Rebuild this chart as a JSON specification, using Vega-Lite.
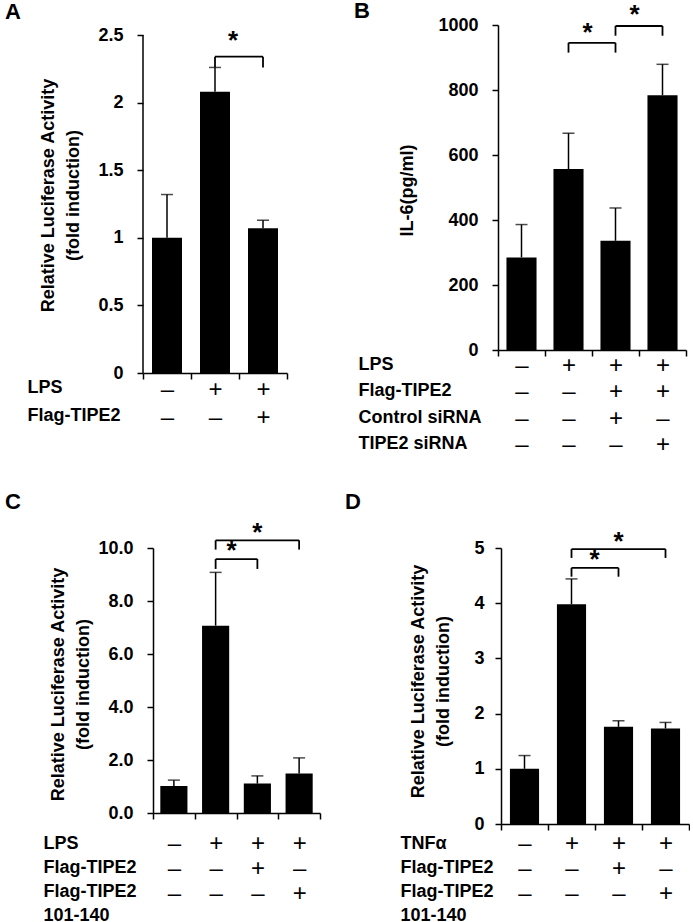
{
  "$schema": "https://vega.github.io/schema/vega-lite/v6.json",
  "background": "white",
  "padding": {"left": 5, "top": 0, "right": 0, "bottom": 0},
  "datasets": {
    "A_bars": [{"cond": "–|–", "val": 1.0, "err": 1.32}, {"cond": "+|–", "val": 2.08, "err": 2.26}, {"cond": "+|+", "val": 1.07, "err": 1.13}],
    "A_axis": [{"cond": "–|–", "y0": 0, "y1": 2.5}],
    "A_brk": [{"from": "+|–", "to": "+|+", "level": 2.34, "leg": 2.26}],
    "A_star": [{"at": "+|–", "mid": true, "y": 2.48, "s": "*"}],
    "B_bars": [{"cond": "–|–|–|–", "val": 285, "err": 386}, {"cond": "+|–|–|–", "val": 557, "err": 667}, {"cond": "+|+|+|–", "val": 336, "err": 437}, {"cond": "+|+|–|+", "val": 784, "err": 879}],
    "B_brk": [{"from": "+|–|–|–", "to": "+|+|+|–", "level": 945, "leg": 915}, {"from": "+|+|+|–", "to": "+|+|–|+", "level": 997, "leg": 967}],
    "B_star": [{"at": "+|–|–|–", "mid": true, "y": 985, "s": "*"}, {"at": "+|+|+|–", "mid": true, "y": 1041, "s": "*"}],
    "C_bars": [{"cond": "–|–|–", "val": 1.02, "err": 1.24}, {"cond": "+|–|–", "val": 7.07, "err": 9.08}, {"cond": "+|+|–", "val": 1.11, "err": 1.4}, {"cond": "+|–|+", "val": 1.49, "err": 2.08}],
    "C_brk": [{"from": "+|–|–", "to": "+|+|–", "level": 9.58, "leg": 9.21}, {"from": "+|–|–", "to": "+|–|+", "level": 10.29, "leg": 9.94}],
    "C_star": [{"at": "+|–|–", "mid": true, "y": 10.0, "s": "*"}, {"at": "+|+|–", "mid": false, "y": 10.69, "s": "*"}],
    "D_bars": [{"cond": "–|–|–", "val": 1.0, "err": 1.24}, {"cond": "+|–|–", "val": 3.98, "err": 4.44}, {"cond": "+|+|–", "val": 1.76, "err": 1.87}, {"cond": "+|–|+", "val": 1.73, "err": 1.84}],
    "D_brk": [{"from": "+|–|–", "to": "+|+|–", "level": 4.64, "leg": 4.48}, {"from": "+|–|–", "to": "+|–|+", "level": 4.98, "leg": 4.82}],
    "D_star": [{"at": "+|–|–", "mid": true, "y": 4.83, "s": "*"}, {"at": "+|+|–", "mid": false, "y": 5.16, "s": "*"}]
  },
  "config": {
    "view": {"stroke": null},
    "font": "Liberation Sans",
    "axis": {
      "grid": false,
      "domainColor": "black", "domainWidth": 1.5,
      "tickColor": "black", "tickWidth": 1.5, "tickSize": 6,
      "labelColor": "black", "labelFont": "Liberation Sans", "labelFontWeight": "bold", "labelFontSize": 18,
      "titleColor": "black", "titleFont": "Liberation Sans", "titleFontWeight": "bold", "titleFontSize": 18
    },
    "axisX": {
      "labelFontSize": 24, "labelFontWeight": "normal", "labelAngle": 0, "labelBaseline": "top",
      "labelExpr": "split(datum.label, '|')", "labelOverlap": false, "labelFlush": false,
      "tickBand": "extent", "titleAngle": 0, "titleAlign": "left", "titleBaseline": "top"
    },
    "axisY": {"labelPadding": 14, "titleAngle": -90, "titleAlign": "center", "titleBaseline": "top"},
    "title": {"anchor": "start", "frame": "group", "fontSize": 22, "fontWeight": "bold", "font": "Liberation Sans", "color": "black", "offset": 0, "baseline": "alphabetic"}
  },
  "columns": 1,
  "align": "none",
  "spacing": 33,
  "concat": [
    {
      "spacing": 66,
      "hconcat": [
        {
          "width": 144, "height": 348,
          "title": {"text": "A", "dx": -138, "dy": 2.5},
          "layer": [
            {
              "data": {"name": "A_bars"},
              "mark": {"type": "bar", "color": "black", "width": {"band": 0.625}},
              "encoding": {
                "x": {"field": "cond", "type": "nominal", "scale": {"domain": ["–|–", "+|–", "+|+"], "paddingInner": 0, "paddingOuter": 0},
                  "axis": {"title": ["LPS", "Flag-TIPE2"], "titleX": -116, "titleY": 5, "titleLineHeight": 28, "labelLineHeight": 28, "labelPadding": -2}},
                "y": {"field": "val", "type": "quantitative", "scale": {"domain": [0, 2.574], "nice": false},
                  "axis": {"values": [0, 0.5, 1, 1.5, 2, 2.5], "format": "~g", "domain": false, "title": ["Relative Luciferase Activity", "(fold induction)"], "titleX": -104, "titleY": 170, "titleLineHeight": 25}}
              }
            },
            {
              "data": {"name": "A_axis"},
              "mark": {"type": "rule", "color": "black", "strokeWidth": 1.5},
              "encoding": {"x": {"field": "cond", "type": "nominal", "bandPosition": 0}, "y": {"field": "y0", "type": "quantitative"}, "y2": {"field": "y1"}}
            },
            {
              "data": {"name": "A_bars"},
              "mark": {"type": "rule", "color": "black", "strokeWidth": 1.5},
              "encoding": {"x": {"field": "cond", "type": "nominal"}, "y": {"field": "val", "type": "quantitative"}, "y2": {"field": "err"}}
            },
            {
              "data": {"name": "A_bars"},
              "mark": {"type": "tick", "color": "black", "orient": "horizontal", "size": 12, "thickness": 1.5},
              "encoding": {"x": {"field": "cond", "type": "nominal"}, "y": {"field": "err", "type": "quantitative"}}
            },
            {
              "data": {"name": "A_brk"},
              "mark": {"type": "rule", "color": "black", "strokeWidth": 1.8},
              "encoding": {"x": {"field": "from", "type": "nominal"}, "x2": {"field": "to"}, "y": {"field": "level", "type": "quantitative"}}
            },
            {
              "data": {"name": "A_brk"},
              "mark": {"type": "rule", "color": "black", "strokeWidth": 1.8},
              "encoding": {"x": {"field": "from", "type": "nominal"}, "y": {"field": "leg", "type": "quantitative"}, "y2": {"field": "level"}}
            },
            {
              "data": {"name": "A_brk"},
              "mark": {"type": "rule", "color": "black", "strokeWidth": 1.8},
              "encoding": {"x": {"field": "to", "type": "nominal"}, "y": {"field": "leg", "type": "quantitative"}, "y2": {"field": "level"}}
            },
            {
              "data": {"name": "A_star"},
              "mark": {"type": "text", "color": "black", "fontSize": 26, "fontWeight": "bold", "baseline": "middle", "dx": 18, "dy": 3},
              "encoding": {"x": {"field": "at", "type": "nominal"}, "y": {"field": "y", "type": "quantitative"}, "text": {"field": "s"}}
            }
          ]
        },
        {
          "width": 188, "height": 325,
          "title": {"text": "B", "dx": -144, "dy": 25.5},
          "layer": [
            {
              "data": {"name": "B_bars"},
              "mark": {"type": "bar", "color": "black", "width": {"band": 0.64}},
              "encoding": {
                "x": {"field": "cond", "type": "nominal", "scale": {"domain": ["–|–|–|–", "+|–|–|–", "+|+|+|–", "+|+|–|+"], "paddingInner": 0, "paddingOuter": 0},
                  "axis": {"title": ["LPS", "Flag-TIPE2", "Control siRNA", "TIPE2 siRNA"], "titleX": -140, "titleY": 5, "titleLineHeight": 26.5, "labelLineHeight": 26.5, "labelPadding": -3}},
                "y": {"field": "val", "type": "quantitative", "scale": {"domain": [0, 1000], "nice": false},
                  "axis": {"values": [0, 100, 200, 300, 400, 500, 600, 700, 800, 900, 1000], "format": "d", "title": "IL-6(pg/ml)", "titleX": -100, "titleY": 165}}
              }
            },
            {
              "data": {"name": "B_bars"},
              "mark": {"type": "rule", "color": "black", "strokeWidth": 1.5},
              "encoding": {"x": {"field": "cond", "type": "nominal"}, "y": {"field": "val", "type": "quantitative"}, "y2": {"field": "err"}}
            },
            {
              "data": {"name": "B_bars"},
              "mark": {"type": "tick", "color": "black", "orient": "horizontal", "size": 12, "thickness": 1.5},
              "encoding": {"x": {"field": "cond", "type": "nominal"}, "y": {"field": "err", "type": "quantitative"}}
            },
            {
              "data": {"name": "B_brk"},
              "mark": {"type": "rule", "color": "black", "strokeWidth": 1.8},
              "encoding": {"x": {"field": "from", "type": "nominal"}, "x2": {"field": "to"}, "y": {"field": "level", "type": "quantitative"}}
            },
            {
              "data": {"name": "B_brk"},
              "mark": {"type": "rule", "color": "black", "strokeWidth": 1.8},
              "encoding": {"x": {"field": "from", "type": "nominal"}, "y": {"field": "leg", "type": "quantitative"}, "y2": {"field": "level"}}
            },
            {
              "data": {"name": "B_brk"},
              "mark": {"type": "rule", "color": "black", "strokeWidth": 1.8},
              "encoding": {"x": {"field": "to", "type": "nominal"}, "y": {"field": "leg", "type": "quantitative"}, "y2": {"field": "level"}}
            },
            {
              "data": {"name": "B_star"},
              "mark": {"type": "text", "color": "black", "fontSize": 26, "fontWeight": "bold", "baseline": "middle", "dx": 19, "dy": 3},
              "encoding": {"x": {"field": "at", "type": "nominal"}, "y": {"field": "y", "type": "quantitative"}, "text": {"field": "s"}}
            }
          ]
        }
      ]
    },
    {
      "spacing": 24,
      "hconcat": [
        {
          "width": 177, "height": 265,
          "title": {"text": "C", "dx": -138, "dy": -2},
          "layer": [
            {
              "data": {"name": "C_bars"},
              "mark": {"type": "bar", "color": "black", "width": {"band": 0.65}},
              "encoding": {
                "x": {"field": "cond", "type": "nominal", "scale": {"domain": ["–|–|–", "+|–|–", "+|+|–", "+|–|+"], "range": [10, 177], "paddingInner": 0, "paddingOuter": 0},
                  "axis": {"title": ["LPS", "Flag-TIPE2", "Flag-TIPE2", "\u2007\u2009101-140"], "titleX": -100, "titleY": 21, "titleLineHeight": 24, "labelLineHeight": 25, "labelPadding": 12}},
                "y": {"field": "val", "type": "quantitative", "scale": {"domain": [0, 10], "nice": false},
                  "axis": {"offset": -10, "values": [0, 2, 4, 6, 8, 10], "format": ".1f", "title": ["Relative Luciferase Activity", "(fold induction)"], "titleX": -104, "titleY": 136, "titleLineHeight": 25}}
              }
            },
            {
              "data": {"name": "C_bars"},
              "mark": {"type": "rule", "color": "black", "strokeWidth": 1.5},
              "encoding": {"x": {"field": "cond", "type": "nominal"}, "y": {"field": "val", "type": "quantitative"}, "y2": {"field": "err"}}
            },
            {
              "data": {"name": "C_bars"},
              "mark": {"type": "tick", "color": "black", "orient": "horizontal", "size": 12, "thickness": 1.5},
              "encoding": {"x": {"field": "cond", "type": "nominal"}, "y": {"field": "err", "type": "quantitative"}}
            },
            {
              "data": {"name": "C_brk"},
              "mark": {"type": "rule", "color": "black", "strokeWidth": 1.8},
              "encoding": {"x": {"field": "from", "type": "nominal"}, "x2": {"field": "to"}, "y": {"field": "level", "type": "quantitative"}}
            },
            {
              "data": {"name": "C_brk"},
              "mark": {"type": "rule", "color": "black", "strokeWidth": 1.8},
              "encoding": {"x": {"field": "from", "type": "nominal"}, "y": {"field": "leg", "type": "quantitative"}, "y2": {"field": "level"}}
            },
            {
              "data": {"name": "C_brk"},
              "mark": {"type": "rule", "color": "black", "strokeWidth": 1.8},
              "encoding": {"x": {"field": "to", "type": "nominal"}, "y": {"field": "leg", "type": "quantitative"}, "y2": {"field": "level"}}
            },
            {
              "data": {"name": "C_star"},
              "transform": [{"filter": "datum.mid"}],
              "mark": {"type": "text", "color": "black", "fontSize": 26, "fontWeight": "bold", "baseline": "middle", "dx": 16, "dy": 3},
              "encoding": {"x": {"field": "at", "type": "nominal"}, "y": {"field": "y", "type": "quantitative"}, "text": {"field": "s"}}
            },
            {
              "data": {"name": "C_star"},
              "transform": [{"filter": "!datum.mid"}],
              "mark": {"type": "text", "color": "black", "fontSize": 26, "fontWeight": "bold", "baseline": "middle", "dy": 3},
              "encoding": {"x": {"field": "at", "type": "nominal"}, "y": {"field": "y", "type": "quantitative"}, "text": {"field": "s"}}
            }
          ]
        },
        {
          "width": 188, "height": 276,
          "title": {"text": "D", "dx": -156, "dy": -11},
          "layer": [
            {
              "data": {"name": "D_bars"},
              "mark": {"type": "bar", "color": "black", "width": {"band": 0.62}},
              "encoding": {
                "x": {"field": "cond", "type": "nominal", "scale": {"domain": ["–|–|–", "+|–|–", "+|+|–", "+|–|+"], "paddingInner": 0, "paddingOuter": 0},
                  "axis": {"title": ["TNFα", "Flag-TIPE2", "Flag-TIPE2", "\u2007\u2009101-140"], "titleX": -101, "titleY": 10, "titleLineHeight": 24, "labelLineHeight": 25, "labelPadding": 1}},
                "y": {"field": "val", "type": "quantitative", "scale": {"domain": [0, 5], "nice": false},
                  "axis": {"values": [0, 1, 2, 3, 4, 5], "format": "d", "labelPadding": 11, "title": ["Relative Luciferase Activity", "(fold induction)"], "titleX": -92, "titleY": 133, "titleLineHeight": 25}}
              }
            },
            {
              "data": {"name": "D_bars"},
              "mark": {"type": "rule", "color": "black", "strokeWidth": 1.5},
              "encoding": {"x": {"field": "cond", "type": "nominal"}, "y": {"field": "val", "type": "quantitative"}, "y2": {"field": "err"}}
            },
            {
              "data": {"name": "D_bars"},
              "mark": {"type": "tick", "color": "black", "orient": "horizontal", "size": 12, "thickness": 1.5},
              "encoding": {"x": {"field": "cond", "type": "nominal"}, "y": {"field": "err", "type": "quantitative"}}
            },
            {
              "data": {"name": "D_brk"},
              "mark": {"type": "rule", "color": "black", "strokeWidth": 1.8},
              "encoding": {"x": {"field": "from", "type": "nominal"}, "x2": {"field": "to"}, "y": {"field": "level", "type": "quantitative"}}
            },
            {
              "data": {"name": "D_brk"},
              "mark": {"type": "rule", "color": "black", "strokeWidth": 1.8},
              "encoding": {"x": {"field": "from", "type": "nominal"}, "y": {"field": "leg", "type": "quantitative"}, "y2": {"field": "level"}}
            },
            {
              "data": {"name": "D_brk"},
              "mark": {"type": "rule", "color": "black", "strokeWidth": 1.8},
              "encoding": {"x": {"field": "to", "type": "nominal"}, "y": {"field": "leg", "type": "quantitative"}, "y2": {"field": "level"}}
            },
            {
              "data": {"name": "D_star"},
              "transform": [{"filter": "datum.mid"}],
              "mark": {"type": "text", "color": "black", "fontSize": 26, "fontWeight": "bold", "baseline": "middle", "dx": 23, "dy": 3},
              "encoding": {"x": {"field": "at", "type": "nominal"}, "y": {"field": "y", "type": "quantitative"}, "text": {"field": "s"}}
            },
            {
              "data": {"name": "D_star"},
              "transform": [{"filter": "!datum.mid"}],
              "mark": {"type": "text", "color": "black", "fontSize": 26, "fontWeight": "bold", "baseline": "middle", "dy": 3},
              "encoding": {"x": {"field": "at", "type": "nominal"}, "y": {"field": "y", "type": "quantitative"}, "text": {"field": "s"}}
            }
          ]
        }
      ]
    }
  ]
}
